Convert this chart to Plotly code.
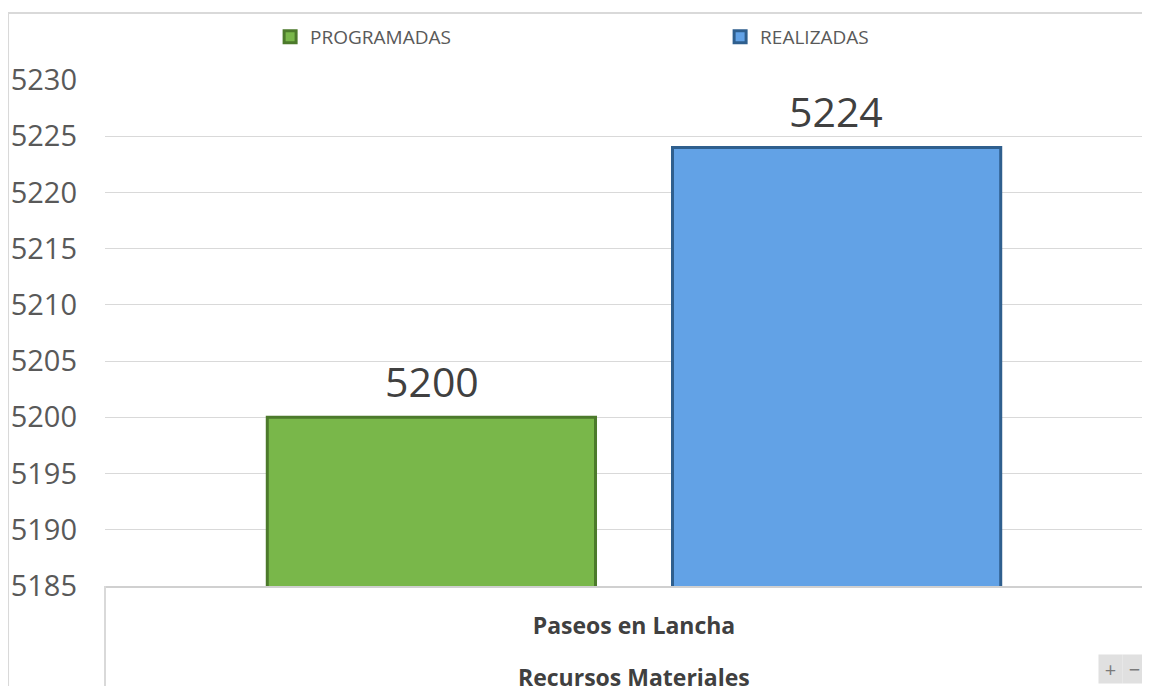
import plotly.graph_objects as go

# valores
categoria = ["Paseos en Lancha"]
grupo = "Recursos Materiales"
programadas = [5200]
realizadas = [5224]
y_ticks = [5185, 5190, 5195, 5200, 5205, 5210, 5215, 5220, 5225, 5230]

fig = go.Figure()

fig.add_trace(go.Bar(
    x=categoria, y=programadas,
    name="PROGRAMADAS",
    marker=dict(color="#79B74A", line=dict(color="#4C7A2B", width=3)),
))
fig.add_trace(go.Bar(
    x=categoria, y=realizadas,
    name="REALIZADAS",
    marker=dict(color="#62A2E6", line=dict(color="#2F5F8E", width=3)),
))

# etiquetas de datos encima de cada barra
for vals, dx in [(programadas, -202), (realizadas, 202)]:
    for cat, v in zip(categoria, vals):
        fig.add_annotation(x=cat, y=v, text=str(v), showarrow=False,
                           xshift=dx, yshift=6, yanchor="bottom",
                           font=dict(size=41, color="#404040"))

# segundo nivel de la categoría (grupo)
fig.add_annotation(text="<b>" + grupo + "</b>", xref="x", yref="paper",
                   x=categoria[0], y=-0.18, yanchor="middle", showarrow=False,
                   font=dict(size=23, color="#404040"))

# marco exterior y separador de la tabla de categorías
line_col = "#D9D9D9"
fig.add_shape(type="line", xref="paper", yref="paper",
              x0=-0.0928, x1=1.0, y0=1.1324, y1=1.1324,
              line=dict(color=line_col, width=2))
fig.add_shape(type="line", xref="paper", yref="paper",
              x0=-0.0928, x1=-0.0928, y0=1.1324, y1=-0.2,
              line=dict(color=line_col, width=2))
fig.add_shape(type="line", xref="paper", yref="paper",
              x0=0, x1=0, y0=0, y1=-0.2,
              line=dict(color=line_col, width=2))

# botones +/- de la esquina
for txt, xp in [("+", 0.9622), ("−", 0.9856)]:
    fig.add_annotation(text=txt, xref="paper", yref="paper", x=xp, y=-0.164,
                       xanchor="center", yanchor="middle", showarrow=False,
                       width=21, height=26,
                       font=dict(size=20, color="#7A7A7A"),
                       bgcolor="#E0E0E0")

fig.update_layout(
    width=1142, height=678,
    margin=dict(l=97, r=0, t=72, b=100, autoexpand=False),
    paper_bgcolor="white", plot_bgcolor="white",
    barmode="group", bargap=0.234, bargroupgap=0.19,
    font=dict(family="Open Sans", color="#595959"),
    showlegend=True,
    legend=dict(orientation="h", x=0.158, xanchor="left", y=1.085, yanchor="middle",
                entrywidth=405, entrywidthmode="pixels",
                font=dict(size=19, color="#595959"), bgcolor="rgba(0,0,0,0)"),
    xaxis=dict(
        type="category", range=[-0.5, 0.4877],
        showline=True, linecolor="#D0D0D0", linewidth=2,
        showgrid=False, ticks="",
        tickfont=dict(size=23, color="#404040", family="Open Sans", weight="bold"),
        ticklabelstandoff=18,
        automargin=False,
    ),
    yaxis=dict(
        range=[5185, 5230], tickvals=y_ticks,
        showgrid=True, gridcolor="#D9D9D9", gridwidth=1,
        zeroline=False, showline=False, ticks="",
        tickfont=dict(size=29, color="#595959"),
        ticklabelstandoff=27,
        automargin=False,
    ),
)

fig.write_html("out.html")
